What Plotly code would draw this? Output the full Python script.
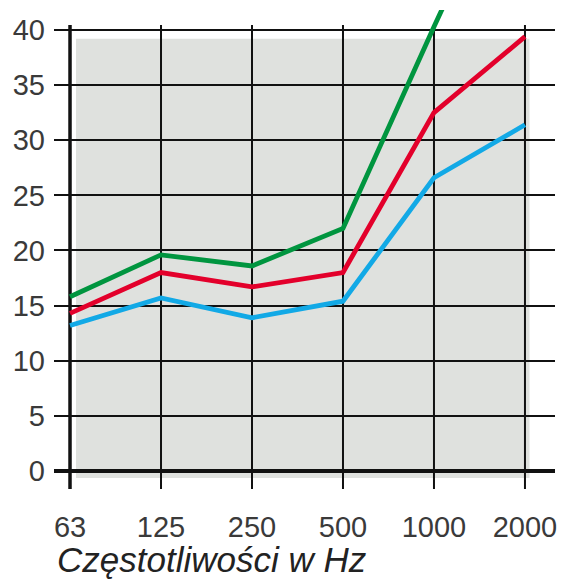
import plotly.graph_objects as go

categories = ["63", "125", "250", "500", "1000", "2000"]
green = [15.8, 19.6, 18.6, 22.0, 40.3, 58.0]
red = [14.3, 18.0, 16.7, 18.0, 32.5, 39.4]
blue = [13.2, 15.7, 13.9, 15.4, 26.6, 31.4]
y_ticks = [0, 5, 10, 15, 20, 25, 30, 35, 40]

xs = list(range(len(categories)))
FONT = "Liberation Sans, Arial"

fig = go.Figure()
for vals, col in [(blue, "#12a9e6"), (red, "#e3002b"), (green, "#00953f")]:
    fig.add_trace(go.Scatter(x=xs, y=vals, mode="lines",
                             line=dict(color=col, width=4.8), hoverinfo="skip"))

shapes = [
    dict(type="rect", xref="x", yref="y", x0=0.066, x1=5.05, y0=-0.63, y1=39.2,
         fillcolor="#dfe1de", line=dict(width=0), layer="below"),
]
for i in xs:
    shapes.append(dict(type="line", xref="x", yref="y", x0=i, x1=i, y0=-1.63, y1=40.45,
                       line=dict(color="#111", width=3.5 if i == 0 else 2), layer="below"))

fig.update_layout(
    width=563, height=584,
    margin=dict(l=54, r=8, t=10, b=95),
    paper_bgcolor="white", plot_bgcolor="rgba(0,0,0,0)",
    showlegend=False,
    shapes=shapes,
    xaxis=dict(range=[-0.176, 5.33], tickvals=xs, ticktext=categories,
               showgrid=False, zeroline=False, showline=False, ticks="",
               automargin=False,
               tickfont=dict(family=FONT, size=29, color="#3a3a3a"),
               ticklabelstandoff=18),
    yaxis=dict(range=[-1.63, 41.81], tickvals=y_ticks,
               showgrid=True, gridcolor="#111", gridwidth=2,
               zeroline=True, zerolinecolor="#111", zerolinewidth=4,
               showline=False, ticks="", automargin=False,
               tickfont=dict(family=FONT, size=29, color="#3a3a3a"),
               ticklabelstandoff=8),
    annotations=[dict(text="<i>Częstotliwości w Hz</i>", xref="paper", yref="paper",
                      x=0.002, y=-0.148, xanchor="left", yanchor="middle", showarrow=False,
                      font=dict(family=FONT, size=35, color="#222"))],
)
fig.write_html("out.html", config={"displayModeBar": False},
               post_script="document.body.style.margin='0px';")
